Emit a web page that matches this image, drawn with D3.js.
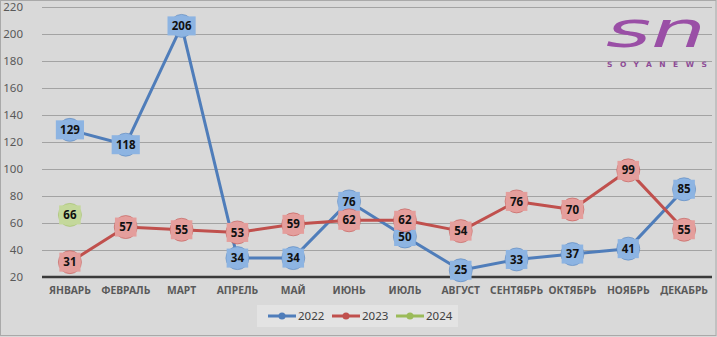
<!DOCTYPE html>
<html>
<head>
<meta charset="utf-8">
<script src="https://cdn.jsdelivr.net/npm/d3@7/dist/d3.min.js"></script>
<style>
  html, body { margin: 0; padding: 0; background: #d9d9d9; }
  svg { display: block; }
</style>
</head>
<body>
<svg id="chart" width="717" height="337"></svg>
<script>
// Monthly figures per year
const months = ["ЯНВАРЬ", "ФЕВРАЛЬ", "МАРТ", "АПРЕЛЬ", "МАЙ", "ИЮНЬ", "ИЮЛЬ", "АВГУСТ", "СЕНТЯБРЬ", "ОКТЯБРЬ", "НОЯБРЬ", "ДЕКАБРЬ"];
const values2022 = [129, 118, 206, 34, 34, 76, 50, 25, 33, 37, 41, 85];
const values2023 = [31, 57, 55, 53, 59, 62, 62, 54, 76, 70, 99, 55];
const values2024 = [66];
const yTicks = [20, 40, 60, 80, 100, 120, 140, 160, 180, 200, 220];
const seriesNames = ["2022", "2023", "2024"];

const series = [
  { name: seriesNames[0], values: values2022, line: "#4f7dba", fill: "#8db4e2" },
  { name: seriesNames[1], values: values2023, line: "#c0504d", fill: "#e49e9c" },
  { name: seriesNames[2], values: values2024, line: "#9bbb59", fill: "#c4d89b" }
];

const W = 717, H = 337;
const plot = { left: 42, right: 712, top: 7, bottom: 277 };

const svg = d3.select("#chart");

// Background and frame
svg.append("rect")
  .attr("x", 0.5).attr("y", 0.5)
  .attr("width", W - 1.5).attr("height", H - 2)
  .attr("fill", "#d9d9d9")
  .attr("stroke", "#a9a9a9")
  .attr("stroke-width", 1);

const x = d3.scaleBand().domain(months).range([plot.left, plot.right]).padding(0);
const cx = m => x(m) + x.bandwidth() / 2;
const y = d3.scaleLinear().domain([20, 220]).range([plot.bottom, plot.top]);

// Horizontal grid lines
const grid = svg.append("g")
  .attr("transform", `translate(${plot.left},0)`)
  .call(d3.axisLeft(y).tickValues(yTicks.filter(t => t > 20)).tickSize(-(plot.right - plot.left)).tickFormat(""));
grid.select(".domain").remove();
grid.selectAll("line").attr("stroke", "#a3a3a3").attr("stroke-width", 1);

// Value axis labels
const yAxis = svg.append("g")
  .attr("transform", `translate(${plot.left},0)`)
  .call(d3.axisLeft(y).tickValues(yTicks).tickSize(0).tickPadding(19));
yAxis.select(".domain").remove();
yAxis.selectAll("text")
  .attr("fill", "#595959")
  .style("font-family", "'Noto Sans', 'Open Sans', sans-serif")
  .style("font-size", "11.5px");

// Category axis
const xAxis = svg.append("g")
  .attr("transform", `translate(0,${plot.bottom})`)
  .call(d3.axisBottom(x).tickSize(0).tickPadding(10));
xAxis.select(".domain")
  .attr("stroke", "#3a3a3a")
  .attr("stroke-width", 2.5)
  .attr("d", `M${plot.left},0H${plot.right}`);
xAxis.selectAll("text")
  .attr("fill", "#595959")
  .style("font-family", "'Noto Sans', 'Open Sans', sans-serif")
  .style("font-weight", "bold")
  .style("font-size", "10.3px");

// Series lines
const lineGen = d3.line().x(d => cx(d.m)).y(d => y(d.v));
const pts = s => s.values.map((v, i) => ({ m: months[i], v }));

svg.append("g").selectAll("path")
  .data(series)
  .join("path")
  .attr("d", s => lineGen(pts(s)))
  .attr("fill", "none")
  .attr("stroke", s => s.line)
  .attr("stroke-width", 3)
  .attr("stroke-linejoin", "round")
  .attr("stroke-linecap", "round");

// Markers with value labels
series.forEach(s => {
  const g = svg.append("g");
  const nodes = g.selectAll("g.pt")
    .data(pts(s))
    .join("g")
    .attr("class", "pt")
    .attr("transform", d => `translate(${cx(d.m)},${y(d.v)})`);

  nodes.append("circle")
    .attr("r", 11.5)
    .attr("fill", s.fill)
    .attr("stroke", s.line)
    .attr("stroke-opacity", 0.55)
    .attr("stroke-width", 1);

  const txt = nodes.append("text")
    .text(d => d.v)
    .attr("text-anchor", "middle")
    .attr("dy", "0.36em")
    .attr("fill", "#111")
    .style("font-family", "'Noto Sans', 'Open Sans', sans-serif")
    .style("font-weight", "bold")
    .style("font-size", "11.5px");

  txt.each(function () {
    const bb = this.getBBox();
    const w = bb.width + 8;
    d3.select(this.parentNode).insert("rect", "text")
      .attr("x", -w / 2).attr("y", -9.5)
      .attr("width", w).attr("height", 19)
      .attr("fill", s.fill);
  });
});

// Legend
const legend = svg.append("g");
legend.append("rect")
  .attr("x", 257).attr("y", 305)
  .attr("width", 201).attr("height", 22)
  .attr("fill", "#e3e3e3");

const legendX = [268, 332, 396];
series.forEach((s, i) => {
  const lx = legendX[i], ly = 316;
  legend.append("line")
    .attr("x1", lx).attr("x2", lx + 28)
    .attr("y1", ly).attr("y2", ly)
    .attr("stroke", s.line).attr("stroke-width", 3);
  legend.append("circle")
    .attr("cx", lx + 14).attr("cy", ly).attr("r", 3.5)
    .attr("fill", s.line);
  legend.append("text")
    .attr("x", lx + 30).attr("y", ly)
    .attr("dy", "0.36em")
    .text(s.name)
    .attr("fill", "#404040")
    .style("font-family", "'Noto Sans', 'Open Sans', sans-serif")
    .style("font-size", "11.5px");
});

// Brand mark
const brand = svg.append("g");
brand.append("text")
  .attr("x", 606).attr("y", 47)
  .attr("textLength", 100)
  .attr("lengthAdjust", "spacingAndGlyphs")
  .text("sn")
  .attr("fill", "#9a4fa6")
  .style("font-family", "'DejaVu Sans', sans-serif")
  .style("font-style", "oblique")
  .style("font-size", "50px");
brand.append("text")
  .attr("x", 607).attr("y", 67)
  .attr("textLength", 100)
  .attr("lengthAdjust", "spacing")
  .text("SOYANEWS")
  .attr("fill", "#8d4b96")
  .style("font-family", "'DejaVu Sans', sans-serif")
  .style("font-weight", "bold")
  .style("font-size", "7.5px");
</script>
</body>
</html>
